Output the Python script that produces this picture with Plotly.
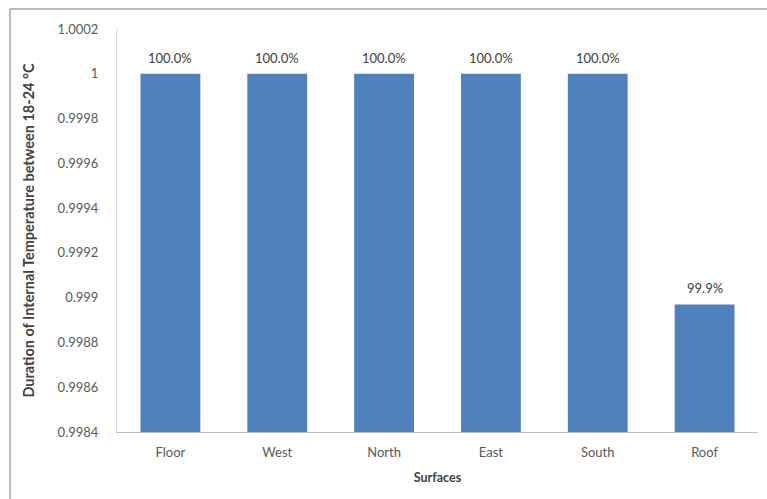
import plotly.graph_objects as go

categories = ["Floor", "West", "North", "East", "South", "Roof"]
values = [1.0, 1.0, 1.0, 1.0, 1.0, 0.99897]
y_tick_vals = [0.9984, 0.9986, 0.9988, 0.999, 0.9992, 0.9994, 0.9996, 0.9998, 1.0, 1.0002]
y_tick_text = ["0.9984", "0.9986", "0.9988", "0.999", "0.9992", "0.9994", "0.9996", "0.9998", "1", "1.0002"]

font_family = "Lato, 'Open Sans', sans-serif"

fig = go.Figure(go.Bar(
    x=categories, y=values,
    marker=dict(color="#4F81BD", line=dict(width=0)),
    hoverinfo="x+y",
))

for c, v in zip(categories, values):
    fig.add_annotation(
        x=c, y=v, xref="x", yref="y",
        text=f"{v * 100:.1f}%", showarrow=False,
        yanchor="bottom", yshift=6,
        font=dict(family=font_family, size=13, color="#404040"),
    )

W, H = 767, 499
l, r, t, b = 117, 9, 29, 67
pw, ph = W - l - r, H - t - b

def px_x(x):
    return (x - l) / pw

def px_y(y):
    return (H - b - y) / ph

fig.update_layout(
    width=W, height=H,
    margin=dict(l=l, r=r, t=t, b=b, autoexpand=False),
    paper_bgcolor="white", plot_bgcolor="white",
    bargap=0.44,
    showlegend=False,
    font=dict(family=font_family, color="#595959", size=13),
    xaxis=dict(
        showgrid=False, showline=True, linecolor="#BFBFBF", linewidth=1,
        ticks="", ticklabelstandoff=8, tickfont=dict(size=13, color="#595959"),
        title=dict(text="<b>Surfaces</b>", font=dict(size=12.5, color="#404040"), standoff=14),
    ),
    yaxis=dict(
        range=[0.9984, 1.0002], tickvals=y_tick_vals, ticktext=y_tick_text,
        showgrid=False, showline=True, linecolor="#D9D9D9", linewidth=1,
        zeroline=False, ticks="", ticklabelstandoff=15,
        tickfont=dict(size=13, color="#595959"),
        title=dict(text="<b>Duration of Internal Temperature between 18-24 °C</b>",
                   font=dict(size=14.5, color="#404040"), standoff=19),
    ),
    shapes=[
        dict(type="line", xref="paper", yref="paper",
             x0=px_x(10), x1=px_x(770), y0=px_y(9), y1=px_y(9),
             line=dict(color="#A6A6A6", width=1.5)),
        dict(type="line", xref="paper", yref="paper",
             x0=px_x(10), x1=px_x(10), y0=px_y(9), y1=px_y(502),
             line=dict(color="#A6A6A6", width=1.5)),
    ],
)

fig.write_html("out.html", config={"displayModeBar": False},
               post_script="document.body.style.margin='0';")
